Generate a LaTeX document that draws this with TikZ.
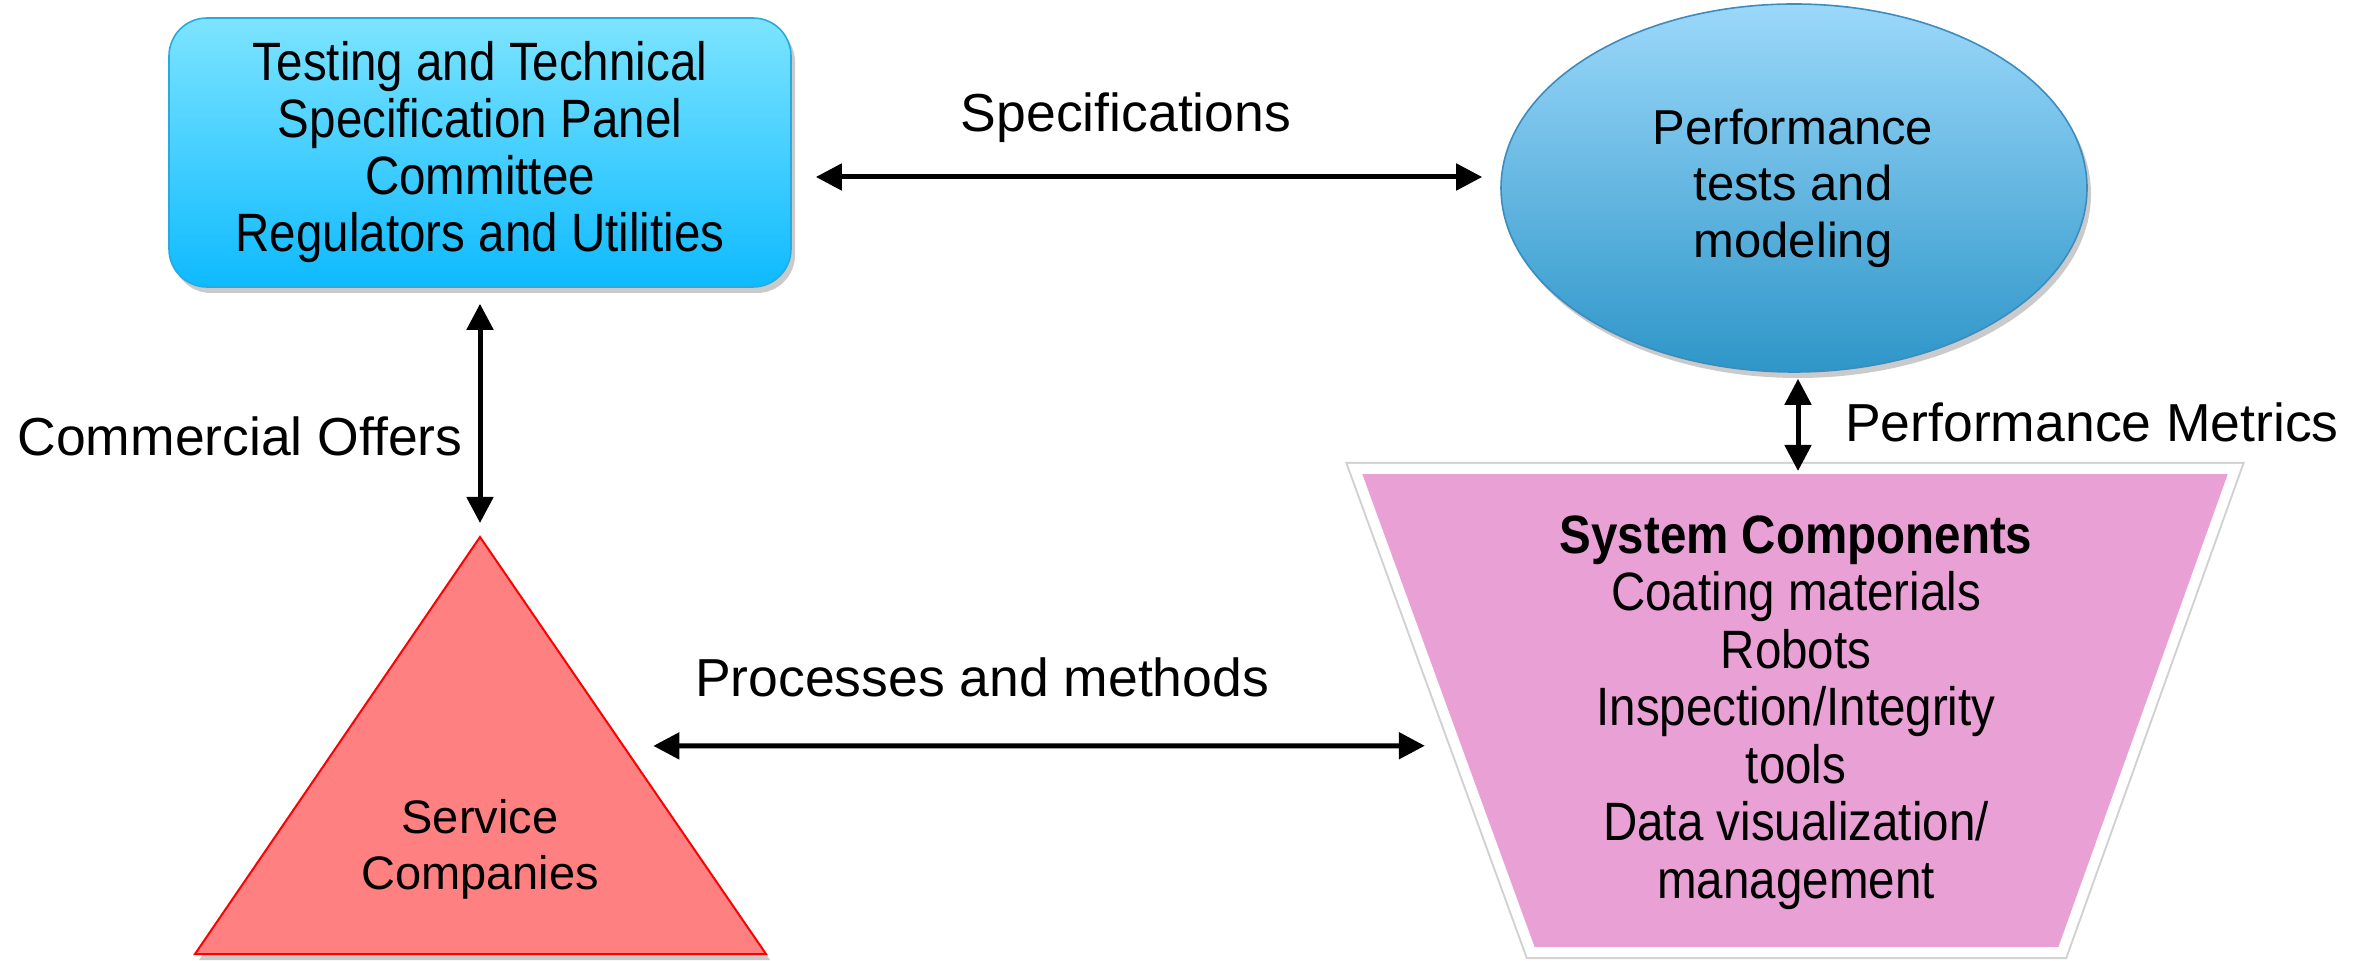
\documentclass[tikz,border=0pt]{standalone}
\usepackage{fontspec}
\setmainfont{Liberation Sans}
\newfontfamily\condfont[FakeStretch=0.88]{Liberation Sans}
\usetikzlibrary{shapes.geometric,shadows,arrows.meta,calc}
\definecolor{boxtop}{RGB}{125,228,255}
\definecolor{boxbot}{RGB}{14,186,255}
\definecolor{boxline}{RGB}{40,170,225}
\definecolor{elltop}{RGB}{155,216,250}
\definecolor{ellbot}{RGB}{46,150,200}
\definecolor{ellline}{RGB}{60,140,190}
\definecolor{trifill}{RGB}{255,128,128}
\definecolor{trapfill}{RGB}{233,160,212}
\begin{document}
\begin{tikzpicture}[x=0.5pt,y=-0.5pt,
  lbl/.style={font=\fontsize{26.75pt}{32pt}\selectfont, inner sep=0pt, anchor=base},
  body/.style={font=\fontsize{24pt}{28.5pt}\selectfont, align=center, inner sep=0pt},
  cond/.style={align=center, inner sep=0pt, font=\condfont\fontsize{27pt}{28.5pt}\selectfont},
  arr/.style={line width=2.5pt, {Triangle[length=13pt,width=13pt]}-{Triangle[length=13pt,width=13pt]}},
  shad/.style={drop shadow={shadow xshift=2pt,shadow yshift=-3pt,opacity=0.35,fill=black!60}},
  glow/.style={preaction={draw=black!18, line width=7pt, line join=miter}}
]
\useasboundingbox (0,0) rectangle (2372,961);

% top-left panel
\node[cond, draw=boxline, line width=0.8pt, rounded corners=19pt,
      top color=boxtop, bottom color=boxbot, shad,
      minimum width=311pt, minimum height=134.5pt] (panel) at (480,152.5)
  {Testing and Technical\\Specification Panel\\Committee\\Regulators and Utilities};

% ellipse
\node[ellipse, body, draw=ellline, line width=0.8pt,
      top color=elltop, bottom color=ellbot, shad,
      minimum width=293pt, minimum height=184pt] (perf) at (1794,188) {};
\node[body, font=\fontsize{24.5pt}{28.25pt}\selectfont] (perftext) at (1793,188)
  {Performance\\tests and\\modeling};

% triangle
\coordinate (apex) at (480,537);
\coordinate (tbl) at (195,954);
\coordinate (tbr) at (766,954);
\path[fill=trifill, draw=red, line width=1pt, shad] (apex) -- (tbr) -- (tbl) -- cycle;
\node[body, font=\fontsize{23.5pt}{28pt}\selectfont] (service) at (480,849) {Service\\Companies};

% trapezoid
\coordinate (ttl) at (1355,469);
\coordinate (ttr) at (2235,469);
\coordinate (tbr2) at (2062,952);
\coordinate (tbl2) at (1531,952);
\path[glow, fill=trapfill, draw=white, line width=5pt, line join=miter] (ttl) -- (ttr) -- (tbr2) -- (tbl2) -- cycle;
\node[cond, font=\condfont\fontsize{27pt}{28.75pt}\selectfont] (sys) at (1796,712.5)
  {\textbf{System Components}\\Coating materials\\Robots\\Inspection/Integrity\\tools\\Data visualization/\\management};

% labels
\node[lbl] (lspec) at (1126,132) {Specifications};
\node[lbl] (lcomm) at (240,456) {Commercial Offers};
\node[lbl] (lmet) at (2092,442) {Performance Metrics};
\node[lbl] (lproc) at (982,697) {Processes and methods};

% connectors
\coordinate (s1) at ([xshift=12pt,yshift=-12.25pt]panel.east);
\draw[arr, shorten >=9pt] (s1) -- (s1 -| perf.west);
\draw[arr, shorten <=8pt, shorten >=7pt] (panel.south) -- (apex);
\coordinate (traptop) at (1798,471);
\draw[arr, shorten <=3pt] (perf.south -| traptop) -- (traptop);
\coordinate (triR) at ($(apex)!0.501!(tbr)$);
\coordinate (trapL) at ($(ttl)!0.573!(tbl2)$);
\draw[arr, shorten <=15pt, shorten >=15.5pt] (triR) -- (trapL);
\end{tikzpicture}
\end{document}
